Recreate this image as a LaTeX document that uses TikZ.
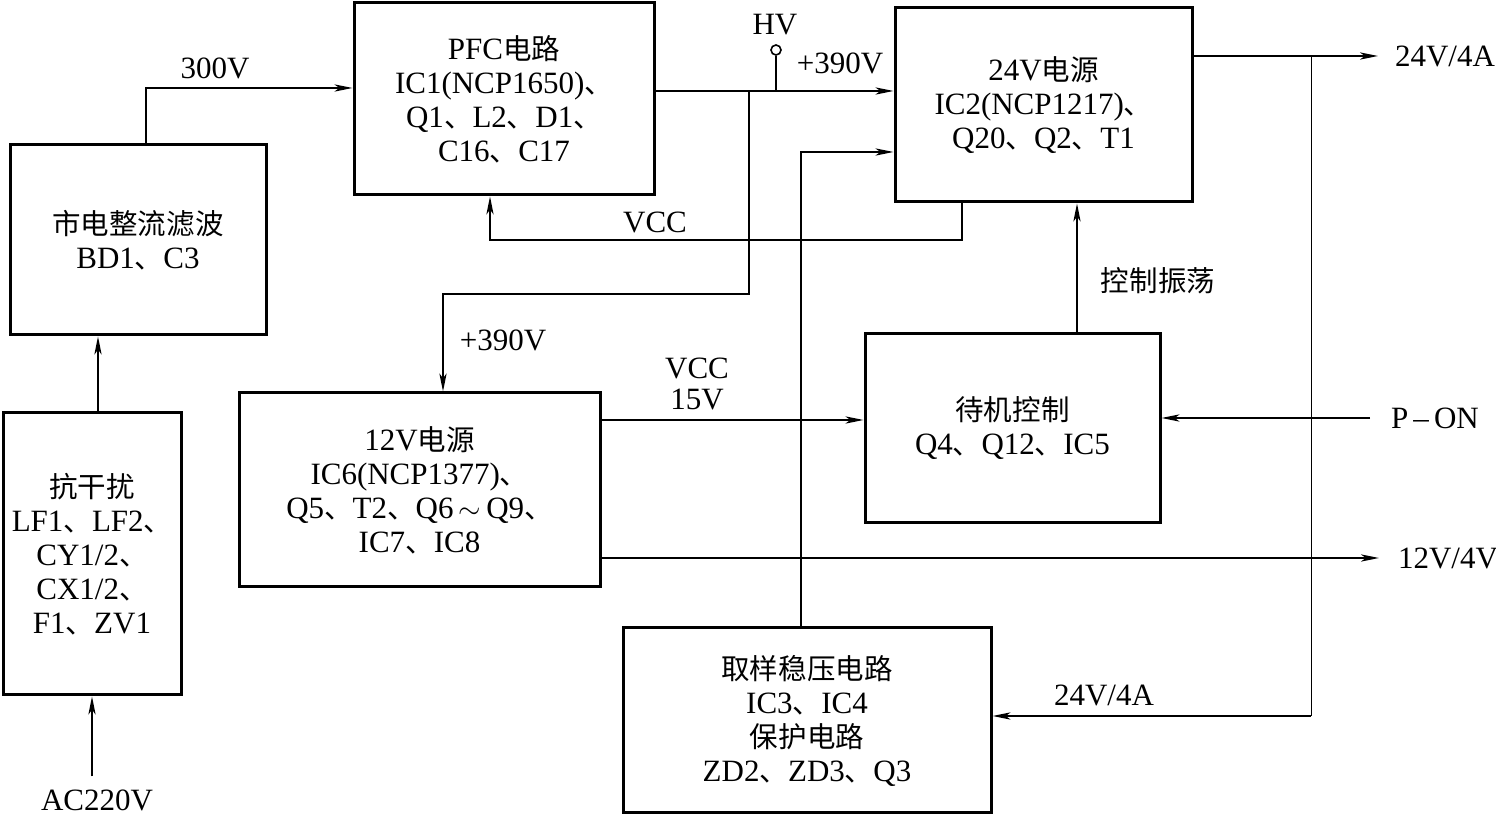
\documentclass[tikz,border=0pt]{standalone}
\usepackage{fontspec}
\setmainfont{Liberation Serif}
\newfontfamily\cjk{Noto Sans CJK SC}[Scale=0.92]
\newcommand\zh[1]{{\cjk #1}}
\usetikzlibrary{arrows.meta}
\begin{document}
\begin{tikzpicture}[x=0.5pt,y=-0.5pt,>={Stealth[length=9pt,width=3.6pt,inset=2.4pt]},line width=1pt,
  font=\fontsize{15.5}{17}\selectfont,
  blk/.style={draw,line width=1.5pt,align=center,inner sep=0pt},
  lbl/.style={inner sep=0pt,align=center},
  thinline/.style={line width=0.5pt}]
  \useasboundingbox (0,0) rectangle (1496,817);
  % blocks
  \node[blk,minimum width=128pt,minimum height=95pt] (rect) at (138,240) {\zh{市电整流滤波}\\BD1\zh{、}C3};
  \node[blk,minimum width=89pt,minimum height=141pt] (emi) at (92,554) {\zh{抗干扰}\\LF1\zh{、}LF2\zh{、}\\CY1/2\zh{、}\\CX1/2\zh{、}\\F1\zh{、}ZV1};
  \node[blk,minimum width=150pt,minimum height=96pt] (pfc) at (504,99) {PFC\zh{电路}\\IC1(NCP1650)\zh{、}\\Q1\zh{、}L2\zh{、}D1\zh{、}\\C16\zh{、}C17};
  \node[blk,minimum width=148.5pt,minimum height=97pt] (p24) at (1043.5,105) {24V\zh{电源}\\IC2(NCP1217)\zh{、}\\Q20\zh{、}Q2\zh{、}T1};
  \node[blk,minimum width=180.5pt,minimum height=97pt] (p12) at (419.5,490) {12V\zh{电源}\\IC6(NCP1377)\zh{、}\\Q5\zh{、}T2\zh{、}Q6\,$\sim$\,Q9\zh{、}\\IC7\zh{、}IC8};
  \node[blk,minimum width=147.5pt,minimum height=94.5pt] (stby) at (1012.5,428.5) {\zh{待机控制}\\Q4\zh{、}Q12\zh{、}IC5};
  \node[blk,minimum width=184pt,minimum height=92.5pt] (samp) at (807,720.5) {\zh{取样稳压电路}\\IC3\zh{、}IC4\\\zh{保护电路}\\ZD2\zh{、}ZD3\zh{、}Q3};
  % terminals
  \node[lbl] (acin) at (97,800) {AC220V};
  \node[lbl,anchor=west] (pon) at (1390,418) {P\,--\,ON};
  \node[lbl,anchor=west] (o24) at (1394,56) {24V/4A};
  \node[lbl,anchor=west] (o12) at (1397,558) {12V/4V};
  \node[draw,circle,line width=0.8pt,inner sep=0pt,minimum size=5pt] (hvpin) at (776,50) {};
  % junctions
  \coordinate (j300) at (146,88);
  \coordinate (jemi) at (98,0);
  \coordinate (jac) at (92,0);
  \coordinate (jhv) at (776,91);
  \coordinate (jb) at (749,91);
  \coordinate (jc) at (443,294);
  \coordinate (jv) at (490,240);
  \coordinate (jv2) at (962,240);
  \coordinate (jf) at (801,152);
  \coordinate (jk) at (1077,0);
  \coordinate (jvcc) at (697,420);
  \coordinate (j24) at (1311,56);
  \coordinate (jr) at (1311,716);
  % connectors
  \draw[->] (acin.north -| jac) ++(0,-12) -- (emi.south -| jac);
  \draw[->] (emi.north -| jemi) -- (rect.south -| jemi);
  \draw[->] (rect.north -| j300) |- (pfc.west |- j300);
  \node[lbl] at (215,68) {300V};
  \draw[->] (pfc.east |- jhv) -- (p24.west |- jhv);
  \draw[line width=0.8pt] (jhv) -- (hvpin.south);
  \node[lbl] at (775,25) {HV};
  \node[lbl] at (840,63) {+390V};
  \draw[->] (jb) |- (jc) -- (p12.north -| jc);
  \node[lbl] at (503,340) {+390V};
  \draw[->,line width=0.8pt] (p24.south -| jv2) |- (jv) -- (pfc.south -| jv);
  \node[lbl] at (655,222) {VCC};
  \draw[->] (samp.north -| jf) -- (jf) -- (p24.west |- jf);
  \draw[->] (stby.north -| jk) -- (p24.south -| jk);
  \node[lbl] at (1158,281) {\zh{控制振荡}};
  \draw[->] (p12.east |- jvcc) -- (stby.west |- jvcc);
  \node[lbl] at (697,368) {VCC};
  \node[lbl] at (697,400) {15V};
  \draw[->] ([xshift=-10pt]pon.west) -- (stby.east |- pon.west);
  \draw[->] (p24.east |- o24) -- ([xshift=-8pt]o24.west);
  \draw[->] (p12.east |- o12) -- ([xshift=-9pt]o12.west);
  \draw[thinline] (j24) -- (jr);
  \draw[->] (jr) -- (samp.east |- jr);
  \node[lbl] at (1104,695) {24V/4A};
\end{tikzpicture}
\end{document}
